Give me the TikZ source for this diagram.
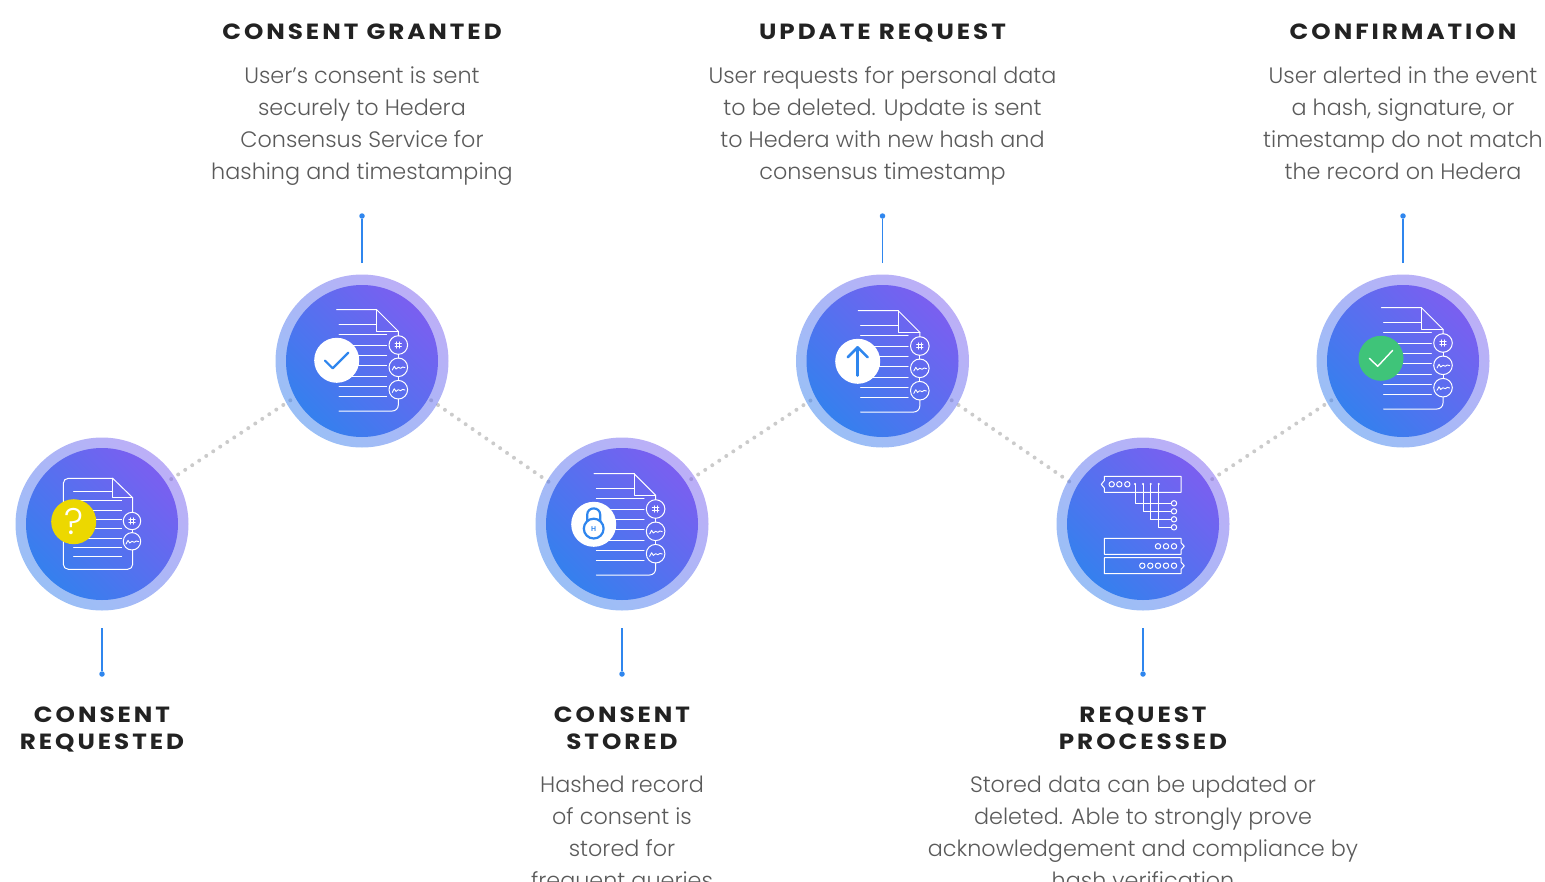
\documentclass[tikz,border=0pt]{standalone}
\usepackage{fontspec}
\usetikzlibrary{calc}
\setmainfont{Poppins Light}
\newfontfamily\titlef{Poppins}[LetterSpace=13.5,FakeStretch=1.12,BoldFont={Poppins Bold},BoldFeatures={LetterSpace=13.5,FakeStretch=1.12}]
\definecolor{gblue}{HTML}{3580EE}
\definecolor{gviolet}{HTML}{7A5FF0}
\definecolor{stemblue}{HTML}{2F86EE}
\definecolor{dotgray}{HTML}{CBCBCB}
\definecolor{titleink}{HTML}{222222}
\definecolor{bodyink}{HTML}{5A5A5A}
\definecolor{qyellow}{HTML}{ECD800}
\definecolor{okgreen}{HTML}{3FC479}
\pgfdeclarelayer{bg}
\pgfsetlayers{bg,main}
\tikzset{
  x=1pt,y=-1pt,
  ringc/.style={circle,draw=none,inner sep=0,outer sep=0,minimum size=173pt,shading=axis,left color=gviolet,right color=gblue,shading angle=-45,opacity=.5},
  innerc/.style={circle,draw=none,inner sep=0,outer sep=0,minimum size=152pt,shading=axis,left color=gviolet,right color=gblue,shading angle=-45},
  trail/.style={draw=dotgray,line width=4pt,line cap=round,dash pattern=on 0pt off 8.4pt},
  stem/.style={draw=stemblue,line width=1.1pt},
  stemend/.style={circle,fill=stemblue,inner sep=0,minimum size=5.5pt},
  ttl/.style={font=\titlef\bfseries\fontsize{22}{27}\selectfont,text=titleink,align=center,inner sep=0},
  bodytxt/.style={font=\fontsize{22.3}{32}\selectfont,text=bodyink,align=center,inner sep=0},
  ico/.style={draw=white,line width=1pt,line cap=round,line join=round},
  disc/.style={circle,inner sep=0,outer sep=0,minimum size=45pt},
  blueline/.style={draw=stemblue,line width=2.2pt,line cap=round,line join=round},
  pics/hashmark/.style={code={
    \draw[ico,line width=.9pt] (-1.4,-3.2)--(-1.4,3.2) (1.4,-3.2)--(1.4,3.2) (-3.2,-1.4)--(3.2,-1.4) (-3.2,1.4)--(3.2,1.4);
  }},
  pics/sigmark/.style={code={
    \draw[ico,line width=.9pt] (-6,2.7)--(-4,-1)--(-2.3,1.7)--(0,0)--(2.3,1)--(4.3,-.3)--(6.7,.3);
  }},
  pics/docicon/.style={code={
    \draw[ico] (-25.3,-51.3)--(14.7,-51.3)--(36.3,-29.7)--(36.3,-25.3);
    \draw[ico] (14.7,-51.3)--(14.7,-29.7)--(36.3,-29.7);
    \foreach \yy/\xx in {-36.7/14.7,-26.3/24.7,-16/24.7,-5.7/24.7,4.7/24.7,15/24.7,25.3/24.7,35.7/24.7}
      \draw[ico] (-23,\yy)--(\xx,\yy);
    \draw[ico] (36.3,-6.7)--(36.3,-3);
    \draw[ico] (36.3,15.6)--(36.3,19.4);
    \draw[ico,rounded corners=6pt] (36.3,38)--(36.3,50)--(-23,50);
    \draw[ico] (36.3,-16) circle[radius=9.3];
    \draw[ico] (36.3,6.3) circle[radius=9.3];
    \draw[ico] (36.3,28.7) circle[radius=9.3];
    \pic at (36.3,-16) {hashmark};
    \pic at (36.3,6.3) {sigmark};
    \pic at (36.3,28.7) {sigmark};
  }},
  pics/roundcirc/.style={code={\draw[ico] (0,0) circle[radius=2.7];}},
}
\begin{document}
\begin{tikzpicture}
\useasboundingbox (0,0) rectangle (1545,881);
\clip (0,0) rectangle (1545,881);
% circles
\node[ringc] (c1) at (102,524) {};
\node[innerc] (i1) at (102,524) {};
\node[ringc] (c2) at (362,361) {};
\node[innerc] (i2) at (362,361) {};
\node[ringc] (c3) at (622,524) {};
\node[innerc] (i3) at (622,524) {};
\node[ringc] (c4) at (882.5,361) {};
\node[innerc] (i4) at (882.5,361) {};
\node[ringc] (c5) at (1143,524) {};
\node[innerc] (i5) at (1143,524) {};
\node[ringc] (c6) at (1403,361) {};
\node[innerc] (i6) at (1403,361) {};
% dotted trail
\begin{pgfonlayer}{bg}
\draw[trail,shorten <=-4pt,shorten >=-9pt] (c1.33) -- (c2.209);
\draw[trail,shorten <=-7pt,shorten >=-7pt] (c2.-30) -- (c3.150);
\draw[trail,shorten <=-4pt,shorten >=-9pt] (c3.33) -- (c4.209);
\draw[trail,shorten <=-7pt,shorten >=-7pt] (c4.-30) -- (c5.150);
\draw[trail,shorten <=-4pt,shorten >=-9pt] (c5.33) -- (c6.209);
\end{pgfonlayer}
% stems
\node[stemend] (e1) at (102,674) {};
\node[stemend] (e2) at (362,216) {};
\node[stemend] (e3) at (622,674) {};
\node[stemend] (e4) at (882.5,216) {};
\node[stemend] (e5) at (1143,674) {};
\node[stemend] (e6) at (1403,216) {};
\draw[stem,shorten <=17.5pt] (c1) -- (e1);
\draw[stem,shorten <=11.5pt] (c2) -- (e2);
\draw[stem,shorten <=17.5pt] (c3) -- (e3);
\draw[stem,shorten <=11.5pt] (c4) -- (e4);
\draw[stem,shorten <=17.5pt] (c5) -- (e5);
\draw[stem,shorten <=11.5pt] (c6) -- (e6);
% icon 1
\begin{scope}[shift={(i1.center)}]
  \draw[ico,rounded corners=5pt] (10.7,-45.7)--(-38.7,-45.7)--(-38.7,45.3)--(30.7,45.3)--(30.7,26);
  \draw[ico] (10.7,-45.7)--(30.7,-26.3)--(30.7,-11.7);
  \draw[ico] (10.7,-45.7)--(10.7,-26.3)--(30.7,-26.3);
  \foreach \yy/\xx in {-32.7/10.7,-23.3/19.7,-14/19.7,-4.7/19.7,4.7/19.7,14/19.7,23.3/19.7,32.7/19.7}
    \draw[ico] (-28.3,\yy)--(\xx,\yy);
  \draw[ico] (30,-3) circle[radius=8.7];
  \draw[ico] (30,17.3) circle[radius=8.7];
  \draw[ico] (30,5.7)--(30,8.6);
  \pic at (30,-3) {hashmark};
  \pic at (30,17.3) {sigmark};
  \node[disc,fill=qyellow] (d1) at (-28.3,-2.3) {};
  \node[text=white,inner sep=0,font=\fontsize{37}{37}\selectfont] (q1) at (d1) {?};
\end{scope}
% icon 2
\pic at ([shift={(0,0)}]i2.center) {docicon};
\node[disc,fill=white] (d2) at ([shift={(-25.3,-.7)}]i2.center) {};
\draw[blueline] ([shift={(-11.7,.3)}]d2.center)--([shift={(-4,8)}]d2.center)--([shift={(11.7,-7.7)}]d2.center);
% icon 3
\pic at ([shift={(-2.7,1)}]i3.center) {docicon};
\node[disc,fill=white] (d3) at ([shift={(-28.3,.3)}]i3.center) {};
\draw[blueline] ([shift={(-6.5,-3)}]d3.center)--([shift={(-6.5,-9.5)}]d3.center) .. controls ([shift={(-6.5,-18)}]d3.center) and ([shift={(6.5,-18)}]d3.center) .. ([shift={(6.5,-9.5)}]d3.center)--([shift={(6.5,-3)}]d3.center);
\draw[blueline] ([shift={(0,4.3)}]d3.center) circle[radius=9.9];
\node[text=stemblue,inner sep=0,font=\fontsize{7}{7}\selectfont\bfseries] (h3) at ([shift={(0,4.3)}]d3.center) {H};
% icon 4
\pic at ([shift={(1,1)}]i4.center) {docicon};
\node[disc,fill=white] (d4) at ([shift={(-24.8,.3)}]i4.center) {};
\draw[blueline,line width=2.5pt] ([shift={(0,14.3)}]d4.center)--([shift={(0,-14)}]d4.center);
\draw[blueline,line width=2.5pt] ([shift={(-10,-4)}]d4.center)--([shift={(0,-14)}]d4.center)--([shift={(10,-4)}]d4.center);
% icon 5
\begin{scope}[shift={(i5.center)}]
  \draw[ico] (-38.7,-47.7)--(38,-47.7)--(38,-31.7)--(-38.7,-31.7)--(-38.7,-36)--(-41.7,-39.7)--(-38.7,-43.4)--cycle;
  \foreach \xx in {-31.3,-23.7,-15.7} \pic at (\xx,-39.7) {roundcirc};
  \foreach \xx/\yy in {-8/-20.7,0/-12.7,7.7/-4.7,15.7/3.3}{
    \draw[ico] (\xx,-40)--(\xx,\yy)--(28.3,\yy);
    \fill[white] (\xx,-40) circle[radius=1.2];
    \pic at (31,\yy) {roundcirc};
  }
  \draw[ico] (-38.7,14.3)--(38,14.3)--(38,18.7)--(41.3,22.3)--(38,26)--(38,30.3)--(-38.7,30.3)--cycle;
  \foreach \xx in {15,23,31} \pic at (\xx,22.3) {roundcirc};
  \draw[ico] (-38.7,33.7)--(38,33.7)--(38,38)--(41.3,41.7)--(38,45.4)--(38,49.7)--(-38.7,49.7)--cycle;
  \foreach \xx in {-.7,7.3,15,23,31} \pic at (\xx,41.7) {roundcirc};
\end{scope}
% icon 6
\pic at ([shift={(3.7,-2)}]i6.center) {docicon};
\node[disc,fill=okgreen] (d6) at ([shift={(-22,-2.7)}]i6.center) {};
\draw[ico,line width=1.4pt] ([shift={(-11.7,0)}]d6.center)--([shift={(-3.3,8)}]d6.center)--([shift={(11.7,-8)}]d6.center);
% texts
\node[ttl,anchor=base] (t2) at (362,39.3) {CONSENT GRANTED};
\node[ttl,anchor=base] (t4) at (882.5,39.3) {UPDATE REQUEST};
\node[ttl,anchor=base] (t6) at (1403,39.3) {CONFIRMATION};
\node[ttl,anchor=base] (t1) at (102,749.3) {CONSENT\\REQUESTED};
\node[ttl,anchor=base] (t3) at (622,749.3) {CONSENT\\STORED};
\node[ttl,anchor=base] (t5) at (1143,749.3) {REQUEST\\PROCESSED};
\node[bodytxt,anchor=base] (b2) at (362,179.5) {User’s consent is sent\\securely to Hedera\\Consensus Service for\\hashing and timestamping};
\node[bodytxt,anchor=base] (b4) at (882.5,179.5) {User requests for personal data\\to be deleted. Update is sent\\to Hedera with new hash and\\consensus timestamp};
\node[bodytxt,anchor=base] (b6) at (1403,179.5) {User alerted in the event\\a hash, signature, or\\timestamp do not match\\the record on Hedera};
\node[bodytxt,anchor=base] (b3) at (622,888.5) {Hashed record\\of consent is\\stored for\\frequent queries};
\node[bodytxt,anchor=base] (b5) at (1143,888.5) {Stored data can be updated or\\deleted. Able to strongly prove\\acknowledgement and compliance by\\hash verification};
\end{tikzpicture}
\end{document}
